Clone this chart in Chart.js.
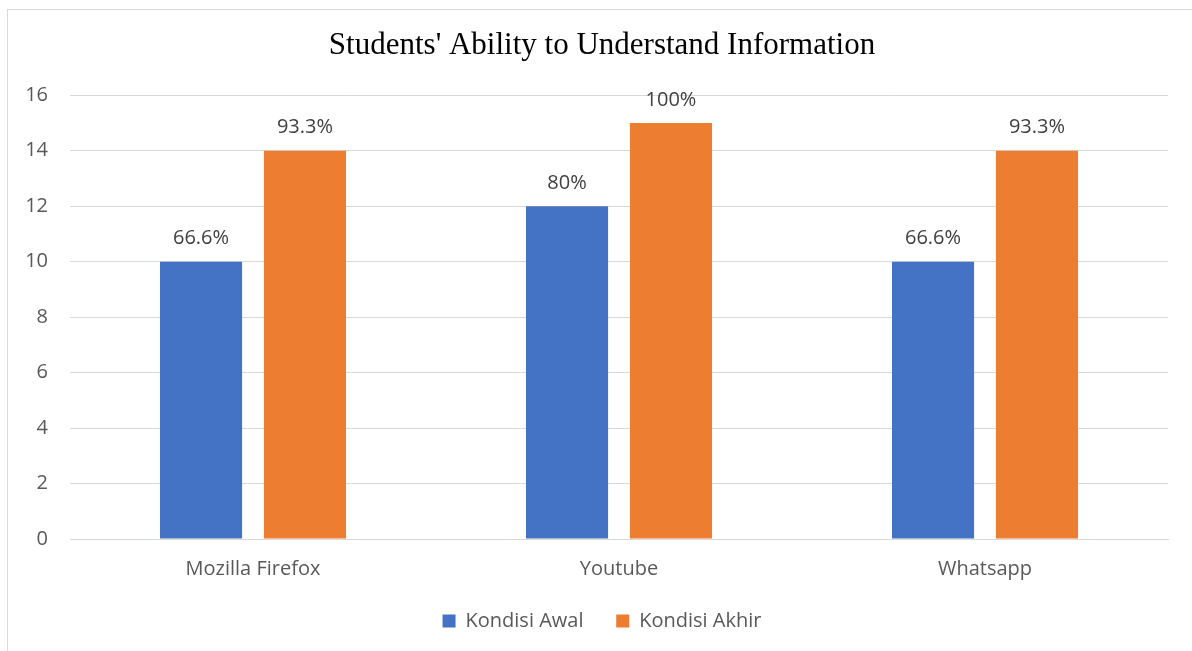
<!DOCTYPE html>
<html>
<head>
<meta charset="utf-8">
<script src="https://cdn.jsdelivr.net/npm/chart.js@4"></script>
<style>
  html, body { margin: 0; padding: 0; background: #fff; overflow: hidden; }
  #frame {
    position: absolute; left: 7px; top: 9px;
    width: 1188px; height: 642px;
    border-left: 1px solid #d9d9d9; border-top: 1px solid #d9d9d9;
  }
</style>
</head>
<body>
<div id="frame"><canvas id="chart" width="1188" height="642"></canvas></div>
<script>
"use strict";

// Chart data
const categories = ["Mozilla Firefox", "Youtube", "Whatsapp"];
const awalValues = [10, 12, 10];
const akhirValues = [14, 15, 14];
const awalLabels = ["66.6%", "80%", "66.6%"];
const akhirLabels = ["93.3%", "100%", "93.3%"];
const yTicks = [0, 2, 4, 6, 8, 10, 12, 14, 16];

const textFont = "'Open Sans', 'Liberation Sans', sans-serif";
const textSize = 20;

// Draws the percent text above each bar
const barLabels = {
  id: "barLabels",
  afterDatasetsDraw(chart) {
    const ctx = chart.ctx;
    ctx.save();
    ctx.font = textSize + "px " + textFont;
    ctx.fillStyle = "#404040";
    ctx.textAlign = "center";
    ctx.textBaseline = "middle";
    chart.data.datasets.forEach((ds, i) => {
      chart.getDatasetMeta(i).data.forEach((bar, j) => {
        ctx.fillText(ds.pctLabels[j], bar.x, bar.y - 23);
      });
    });
    ctx.restore();
  },
};

const ctx = document.getElementById("chart").getContext("2d");
new Chart(ctx, {
  type: "bar",
  data: {
    labels: categories,
    datasets: [
      {
        label: "Kondisi Awal",
        data: awalValues,
        pctLabels: awalLabels,
        backgroundColor: "#4472C4",
        categoryPercentage: 0.568,
        barPercentage: 0.79,
      },
      {
        label: "Kondisi Akhir",
        data: akhirValues,
        pctLabels: akhirLabels,
        backgroundColor: "#ED7D31",
        categoryPercentage: 0.568,
        barPercentage: 0.79,
      },
    ],
  },
  options: {
    responsive: false,
    animation: false,
    layout: { padding: { left: 0, right: 0, top: 0, bottom: 11 } },
    scales: {
      x: {
        grid: { display: false, drawTicks: false },
        border: { color: "#d9d9d9", width: 1 },
        ticks: { color: "#595959", font: { size: textSize, family: textFont }, padding: 18 },
      },
      y: {
        min: 0,
        max: 16,
        afterBuildTicks(axis) {
          axis.ticks = yTicks.map((v) => ({ value: v }));
        },
        afterFit(axis) {
          axis.width = 62;
        },
        grid: { color: "#d9d9d9", lineWidth: 1, drawTicks: false },
        border: { display: false },
        ticks: { color: "#595959", font: { size: textSize, family: textFont }, padding: 22 },
      },
      // empty right axis, only keeps a margin right of the plot
      yRight: {
        position: "right",
        min: 0,
        max: 1,
        afterFit(axis) {
          axis.width = 28;
        },
        grid: { display: false, drawTicks: false },
        border: { display: false },
        ticks: { display: false },
      },
    },
    plugins: {
      title: {
        display: true,
        text: "Students' Ability to Understand Information",
        color: "#000",
        font: { family: "'Liberation Serif', 'Times New Roman', serif", size: 31, weight: "normal" },
        padding: { top: 17, bottom: 31 },
      },
      legend: {
        position: "bottom",
        labels: {
          color: "#595959",
          font: { size: textSize, family: textFont },
          boxWidth: 13,
          boxHeight: 13,
          padding: 12,
          generateLabels(chart) {
            const items = Chart.defaults.plugins.legend.labels.generateLabels(chart);
            items.forEach((item, i) => {
              if (i < items.length - 1) item.text += "    ";
            });
            return items;
          },
        },
      },
      tooltip: { enabled: false },
    },
  },
  plugins: [barLabels],
});
</script>
</body>
</html>
